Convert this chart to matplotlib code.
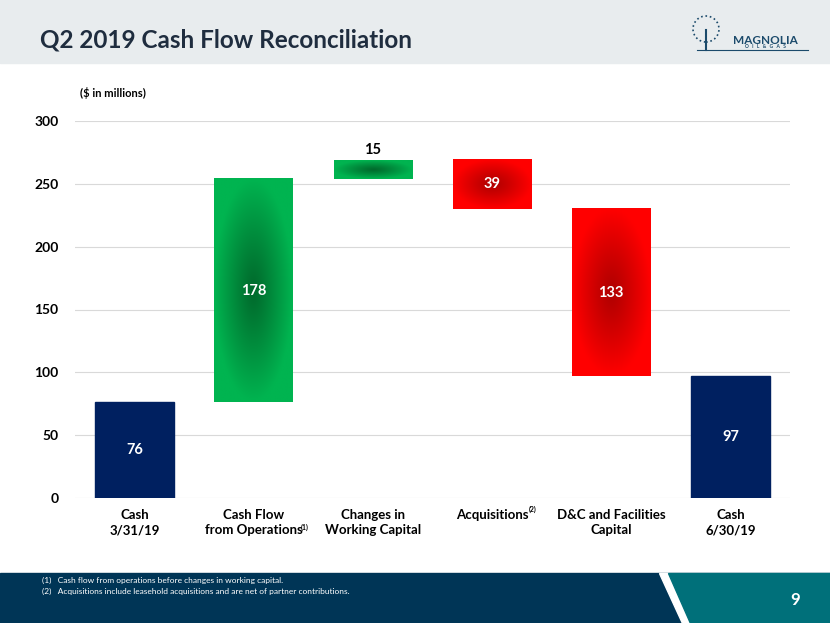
import matplotlib.pyplot as plt
import numpy as np
from matplotlib.patches import Rectangle, Polygon, Ellipse

plt.rcParams["font.family"] = ["Lato", "DejaVu Sans"]

# Waterfall data ($ in millions)
categories = ["Cash\n3/31/19", "Cash Flow\nfrom Operations", "Changes in\nWorking Capital",
              "Acquisitions", "D&C and Facilities\nCapital", "Cash\n6/30/19"]
changes = [76, 178, 15, -39, -133, 97]
kinds = ["total", "up", "up", "down", "down", "total"]
yticks = [0, 50, 100, 150, 200, 250, 300]

NAVY = "#002060"
GREEN_EDGE, GREEN_MID = "#00B450", "#006A2C"
RED_EDGE, RED_MID = "#FF0000", "#B00000"


def radial_image(c_edge, c_mid, n=120):
    yy, xx = np.mgrid[-1:1:n * 1j, -1:1:n * 1j]
    r = np.clip(np.sqrt(xx ** 2 + yy ** 2), 0, 1)
    a = np.array(plt.matplotlib.colors.to_rgb(c_mid))
    b = np.array(plt.matplotlib.colors.to_rgb(c_edge))
    t = r[..., None] ** 1.1
    return a * (1 - t) + b * t


fig = plt.figure(figsize=(8.3, 6.23), dpi=100)

# header band
fig.patches.append(Rectangle((0, 1 - 63 / 623), 1, 63 / 623, transform=fig.transFigure,
                             color="#E8ECEE", zorder=0))
fig.text(40 / 830, 1 - 40 / 623, "Q2 2019 Cash Flow Reconciliation", fontsize=17.5,
         fontweight="bold", color="#1F2D3F", va="center", ha="left")

# simple logo
fig.patches.append(Ellipse((706 / 830, 1 - 29 / 623), 26 / 830, 26 / 623, transform=fig.transFigure,
                           facecolor="none", edgecolor="#1B4A6B", linewidth=1.2,
                           linestyle=":", zorder=1))
fig.lines.append(plt.Line2D([706 / 830, 706 / 830], [1 - 30 / 623, 1 - 50 / 623],
                            transform=fig.transFigure, color="#1B4A6B", linewidth=1.5))
fig.lines.append(plt.Line2D([697 / 830, 808 / 830], [1 - 50 / 623, 1 - 50 / 623],
                            transform=fig.transFigure, color="#1B4A6B", linewidth=0.8))
fig.text(765 / 830, 1 - 40 / 623, "MAGNOLIA", fontsize=8.5, fontweight="bold",
         color="#1B4A6B", ha="center", va="center")
fig.text(765 / 830, 1 - 47 / 623, "O   I   L   &   G   A   S", fontsize=3.5, fontweight="bold",
         color="#1B4A6B", ha="center", va="center")

# footer band
fig.patches.append(Rectangle((0, 0), 1, 50 / 623, transform=fig.transFigure,
                             color="#003556", zorder=0))
fig.patches.append(Polygon([(659 / 830, 50 / 623), (1, 50 / 623), (1, 0), (682 / 830, 0)],
                           closed=True, transform=fig.transFigure, color="#FFFFFF", zorder=0))
fig.patches.append(Polygon([(668 / 830, 50 / 623), (1, 50 / 623), (1, 0), (690 / 830, 0)],
                           closed=True, transform=fig.transFigure, color="#00707A", zorder=0))
fig.text(795 / 830, 1 - 600 / 623, "9", fontsize=12, fontweight="bold", color="white",
         ha="center", va="center")
fig.text(42 / 830, 1 - 580 / 623,
         "(1)   Cash flow from operations before changes in working capital.",
         fontsize=6, color="white", va="center")
fig.text(42 / 830, 1 - 591 / 623,
         "(2)   Acquisitions include leasehold acquisitions and are net of partner contributions.",
         fontsize=6, color="white", va="center")

ax = fig.add_axes([75 / 830, 125 / 623, 715 / 830, 377 / 623])
x = np.arange(len(categories))
width = 0.66

running = 0
for i, (v, k) in enumerate(zip(changes, kinds)):
    if k == "total":
        bottom, top = 0, v
        running = v
    else:
        bottom, top = sorted([running, running + v])
        running = running + v
    left = x[i] - width / 2
    if k == "total":
        ax.add_patch(Rectangle((left, bottom), width, top - bottom, color=NAVY, zorder=3))
    else:
        img = radial_image(GREEN_EDGE, GREEN_MID) if k == "up" else radial_image(RED_EDGE, RED_MID)
        ax.imshow(img, extent=[left, left + width, bottom, top], aspect="auto",
                  origin="lower", zorder=3, interpolation="bilinear")
    label = str(abs(v))
    if k == "up" and top - bottom < 20:
        ax.text(x[i], top + 2, label, ha="center", va="bottom", fontsize=10.5,
                fontweight="bold", color="black", zorder=4)
    else:
        ax.text(x[i], (top + bottom) / 2, label, ha="center", va="center", fontsize=10.5,
                fontweight="bold", color="white", zorder=4)

ax.set_xlim(-0.5, len(categories) - 0.5)
ax.set_ylim(0, 300)
ax.set_yticks(yticks)
ax.set_yticklabels([str(t) for t in yticks], fontsize=10, fontweight="bold")
ax.set_xticks(x)
ax.set_xticklabels(categories, fontsize=9.5, fontweight="bold", va="top", linespacing=1.3)
ax.tick_params(length=0)
ax.tick_params(axis="y", pad=12)
ax.tick_params(axis="x", pad=8)
ax.grid(axis="y", color="#D9D9D9", linewidth=0.8, zorder=0)
ax.set_axisbelow(True)
for s in ax.spines.values():
    s.set_visible(False)

fig.text(80 / 830, 1 - 93 / 623, "($ in millions)", fontsize=8, fontweight="bold",
         va="center", ha="left")
fig.text(305 / 830, 1 - 527 / 623, "(1)", fontsize=5, fontweight="bold", ha="center", va="center")
fig.text(533 / 830, 1 - 509 / 623, "(2)", fontsize=5, fontweight="bold", ha="center", va="center")

fig.savefig("out.png", dpi=100)
